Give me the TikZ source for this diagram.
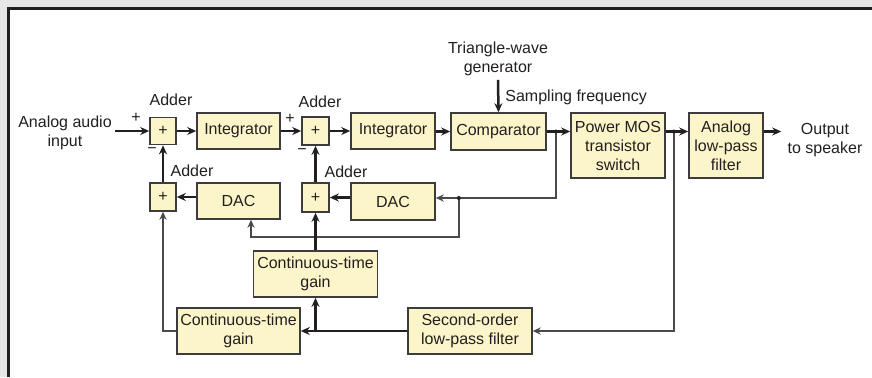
\documentclass[tikz,border=0pt]{standalone}
\usepackage{fontspec}
\setmainfont{Liberation Sans}
\usetikzlibrary{arrows.meta,calc}
\definecolor{boxfill}{HTML}{FCF5C9}
\definecolor{boxline}{HTML}{3C3C3C}
\definecolor{ink}{HTML}{231F20}
\definecolor{thinline}{HTML}{4A4A4A}
\definecolor{bggray}{HTML}{E6E7E6}
\begin{document}
\begin{tikzpicture}[x=0.5pt,y=-0.5pt,
  font=\fontsize{8}{9.5}\selectfont, text=ink,
  blk/.style={draw=boxline, fill=boxfill, line width=0.8pt, align=center, inner sep=0pt},
  lbl/.style={inner sep=0pt, align=center},
  mainarrow/.style={draw=ink, line width=1.25pt, -{Stealth[length=4.5pt,width=4pt]}},
  fbarrow/.style={draw=thinline, line width=0.75pt, -{Stealth[length=4pt,width=3.6pt]}}
]
\useasboundingbox (0,0) rectangle (872,377);
\fill[bggray] (0,0) rectangle (872,377);
\fill[white] (8.5,8.5) rectangle (872,377);
\draw[ink, line width=1.5pt] (8.5,377) -- (8.5,8.5) -- (872,8.5);

% main chain
\node[blk, minimum width=13pt, minimum height=13.5pt] (add1) at (163,131) {+};
\node[blk, minimum width=41.5pt, minimum height=18pt] (int1) at (238.5,131) {Integrator};
\node[blk, minimum width=13.5pt, minimum height=14pt] (add2) at (315.5,131) {+};
\node[blk, minimum width=42pt, minimum height=18pt] (int2) at (393,131) {Integrator};
\node[blk, minimum width=47.5pt, minimum height=18.5pt] (comp) at (498.5,131.5) {Comparator};
\node[blk, minimum width=47pt, minimum height=32.5pt] (pmos) at (618,145.5) {Power MOS\\transistor\\switch};
\node[blk, minimum width=37pt, minimum height=32.5pt] (alpf) at (726,145.5) {Analog\\low-pass\\filter};

% feedback blocks
\node[blk, minimum width=13pt, minimum height=14pt] (add1b) at (163,197) {+};
\node[blk, minimum width=41.5pt, minimum height=18pt] (dac1) at (238.5,201) {DAC};
\node[blk, minimum width=13.5pt, minimum height=14.5pt] (add2b) at (315.5,197.5) {+};
\node[blk, minimum width=42pt, minimum height=18.5pt] (dac2) at (393,201.5) {DAC};
\node[blk, minimum width=62pt, minimum height=23pt] (ctg1) at (315.5,274) {Continuous-time\\gain};
\node[blk, minimum width=61.5pt, minimum height=23pt] (ctg2) at (238.5,331) {Continuous-time\\gain};
\node[blk, minimum width=62pt, minimum height=23pt] (sof) at (470,331) {Second-order\\low-pass filter};

% labels
\node[lbl] (ain) at (65,132.5) {Analog audio\\input};
\node[lbl] (out) at (825,140.5) {Output\\to speaker};
\node[lbl] (trig) at (498,58.5) {Triangle-wave\\generator};
\node[lbl, anchor=west] (samp) at (505,97) {Sampling frequency};
\node[lbl] (adl1) at (171,100) {Adder};
\node[lbl] (adl1b) at (192,171) {Adder};
\node[lbl] (adl2) at (320,102) {Adder};
\node[lbl] (adl2b) at (346,172) {Adder};
\node[lbl] (p1) at (136,118) {+};
\node[lbl] (m1) at (152,151) {−};
\node[lbl] (p2) at (290,119) {+};
\node[lbl] (m2) at (302,152) {−};

% junctions
\coordinate (j1) at ([xshift=4.5pt]comp.east);
\coordinate (j2) at ([xshift=4pt]pmos.east |- comp.east);
\coordinate (j3) at ([xshift=11.5pt,yshift=1.75pt]dac2.east);
\coordinate (j4) at (ctg1.south |- sof.west);

% forward path
\draw[mainarrow] ([xshift=1.5pt]ain.east |- add1.west) -- (add1.west);
\draw[mainarrow] (add1) -- (int1);
\draw[mainarrow] (int1) -- (add2);
\draw[mainarrow] (add2) -- (int2);
\draw[mainarrow] (int2.east |- comp.west) -- (comp.west);
\draw[mainarrow] (comp.east) -- (pmos.west |- comp.east);
\draw[mainarrow] (pmos.east |- comp.east) -- (alpf.west |- comp.east);
\draw[mainarrow] (alpf.east |- comp.east) -- ([xshift=-3pt]out.west |- comp.east);
\draw[mainarrow] ([yshift=-2pt]trig.south) -- (comp.north);

% inner feedback
\draw[mainarrow] (dac1.west |- add1b.east) -- (add1b.east);
\draw[mainarrow] (add1b.north) -- (add1.south);
\draw[mainarrow] (dac2.west |- add2b.east) -- (add2b.east);
\draw[mainarrow] (add2b.north) -- (add2.south);

% comparator feedback
\draw[fbarrow] (j1) |- ([yshift=1.75pt]dac2.east);
\draw[fbarrow] (j3) -- ++(0,39) -| ([xshift=6.25pt]dac1.south);

% output feedback
\draw[fbarrow] (j2) |- (sof.east);
\draw[mainarrow] (sof.west) -- (ctg2.east);
\draw[mainarrow] (j4) -- (ctg1.south);
\draw[mainarrow] (ctg1.north) -- (add2b.south);
\draw[fbarrow] (ctg2.west) -| (add1b.south);

\fill[ink] (j1) circle (1pt);
\fill[ink] (j2) circle (1pt);
\fill[ink] (j3) circle (1pt);
\end{tikzpicture}
\end{document}
